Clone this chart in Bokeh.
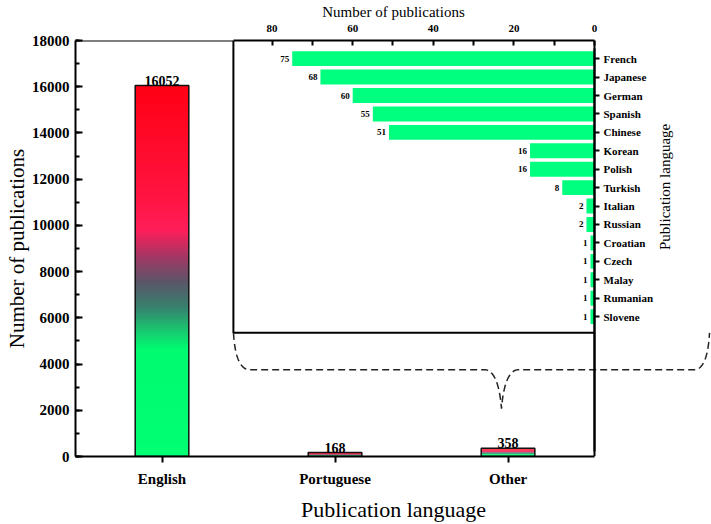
import math
import numpy as np
from bokeh.plotting import figure
from bokeh.models import Range1d, LinearAxis, FixedTicker, SingleIntervalTicker
from bokeh.core.properties import value
from bokeh.embed import file_html
from bokeh.resources import INLINE

# ---------------- data ----------------
main_languages = ["English", "Portuguese", "Other"]
main_counts = [16052, 168, 358]

other_languages = ["French", "Japanese", "German", "Spanish", "Chinese", "Korean",
                   "Polish", "Turkish", "Italian", "Russian", "Croatian", "Czech",
                   "Malay", "Rumanian", "Slovene"]
other_counts = [75, 68, 60, 55, 51, 16, 16, 8, 2, 2, 1, 1, 1, 1, 1]

main_y_interval = 2000
inset_x_ticks = [0, 20, 40, 60, 80]
inset_x_minor_ticks = [10, 30, 50, 70]

# ---------------- styling constants ----------------
FONT = "Liberation Serif"
W, H = 711, 524
GREEN = "#00FF7F"

main_x = [i + 0.5 for i in range(len(main_languages))]
inset_y = [i + 1 for i in range(len(other_languages))]

p = figure(width=W, height=H, output_backend="svg", toolbar_location=None,
           x_range=Range1d(0, 3.676), y_range=Range1d(0, 18000),
           x_axis_location=None, y_axis_location=None,
           min_border_left=75, min_border_top=40, min_border_bottom=67,
           min_border_right=0)
p.outline_line_color = None
p.background_fill_color = "white"
p.border_fill_color = "white"
for g in p.grid:
    g.visible = False

p.extra_x_ranges = {"ix": Range1d(128.78, -29.03)}
p.extra_y_ranges = {"iy": Range1d(22.59, 0.015)}
INSET_X_EDGE = 89.6
INSET_Y_EDGE = 15.88


def style_axis(ax, label_size="15px", title_size="15px"):
    ax.axis_line_width = 2
    ax.axis_line_color = "black"
    ax.major_tick_line_width = 2
    ax.minor_tick_line_width = 2
    ax.major_tick_line_color = "black"
    ax.minor_tick_line_color = "black"
    ax.major_label_text_font = FONT
    ax.major_label_text_font_style = "bold"
    ax.major_label_text_font_size = label_size
    ax.major_label_text_color = "black"
    ax.axis_label_text_font = FONT
    ax.axis_label_text_font_style = "normal"
    ax.axis_label_text_font_size = title_size
    ax.axis_label_text_color = "black"


# ---------------- gradient main bars ----------------
stops_f = [0.0, 0.29, 0.34, 0.40, 0.47, 0.54, 0.61, 0.70, 1.0]
stops_rgb = np.array([(0, 255, 115), (0, 250, 112), (25, 200, 112), (55, 130, 110),
                      (90, 85, 105), (165, 55, 100), (255, 30, 90), (255, 20, 65),
                      (255, 0, 20)], dtype=float)


def grad_color(f):
    r = np.interp(f, stops_f, stops_rgb[:, 0])
    g = np.interp(f, stops_f, stops_rgb[:, 1])
    b = np.interp(f, stops_f, stops_rgb[:, 2])
    return "#%02x%02x%02x" % (int(round(r)), int(round(g)), int(round(b)))


N = 160
BW = 0.31
for xc, v in zip(main_x, main_counts):
    fr = np.arange(N) / N
    bottoms = v * fr
    tops = np.minimum(v * (fr + 1.6 / N), v)
    cols = [grad_color(f + 0.5 / N) for f in fr]
    p.quad(left=xc - BW / 2, right=xc + BW / 2, bottom=bottoms, top=tops,
           fill_color=cols, line_color=None)

p.quad(left=[x - BW / 2 for x in main_x], right=[x + BW / 2 for x in main_x],
       bottom=0, top=main_counts, fill_color=None, line_color="#111111", line_width=1.5)
p.text(x=main_x, y=main_counts, text=[str(c) for c in main_counts],
       text_align="center", text_baseline="bottom",
       text_font=value(FONT), text_font_style="bold", text_font_size="14px",
       text_color="black")

# ---------------- inset ----------------
p.quad(left=INSET_X_EDGE, right=0, top=0.015, bottom=INSET_Y_EDGE,
       fill_color="white", line_color=None, x_range_name="ix", y_range_name="iy")
p.hbar(y=inset_y, left=0, right=other_counts, height=0.81, fill_color=GREEN,
       line_color=None, x_range_name="ix", y_range_name="iy")
p.text(x=other_counts, y=inset_y, text=[str(c) for c in other_counts],
       x_offset=-3, text_align="right", text_baseline="middle",
       text_font=value(FONT), text_font_style="bold", text_font_size="9px",
       text_color="black", x_range_name="ix", y_range_name="iy")
p.line(x=[INSET_X_EDGE, INSET_X_EDGE, 0], y=[0.015, INSET_Y_EDGE, INSET_Y_EDGE],
       line_color="black", line_width=2, x_range_name="ix", y_range_name="iy")

# ---------------- brace (decoration) ----------------
def qbez(p0, c, p1, n=30):
    t = np.linspace(0, 1, n)[:, None]
    p0, c, p1 = np.array(p0), np.array(c), np.array(p1)
    return (1 - t) ** 2 * p0 + 2 * (1 - t) * t * c + t ** 2 * p1

segs = [
    qbez((89.58, 15.88), (89.08, 17.77), (85.86, 17.88)),
    np.array([(85.86, 17.88), (27.05, 17.88)]),
    qbez((27.05, 17.88), (23.82, 17.99), (23.08, 19.99)),
    qbez((23.08, 19.99), (22.33, 17.99), (19.11, 17.88)),
    np.array([(19.11, 17.88), (-25.06, 17.88)]),
    qbez((-25.06, 17.88), (-28.04, 17.77), (-28.54, 15.88)),
]
brace = np.vstack(segs)
p.line(x=brace[:, 0], y=brace[:, 1], line_color="#222222", line_width=1.5,
       line_dash="7 4", x_range_name="ix", y_range_name="iy")

# ---------------- axes ----------------
# main left axis
ay = LinearAxis(ticker=SingleIntervalTicker(interval=main_y_interval, num_minor_ticks=2),
                axis_label="Number of publications",
                major_tick_in=7, major_tick_out=0, minor_tick_in=4, minor_tick_out=0,
                major_label_standoff=6, axis_label_standoff=0)
style_axis(ay, "15px", "21px")
p.add_layout(ay, "left")

# main bottom axis
ax = LinearAxis(ticker=FixedTicker(ticks=main_x, minor_ticks=[]),
                major_label_overrides={x: n for x, n in zip(main_x, main_languages)},
                bounds=(0, 3), axis_label="Publication language",
                major_tick_in=0, major_tick_out=6, minor_tick_in=0, minor_tick_out=0,
                major_label_standoff=8, axis_label_standoff=7)
style_axis(ax, "15px", "22px")
p.add_layout(ax, "below")

# inset top axis (closest to the frame)
at = LinearAxis(x_range_name="ix",
                ticker=FixedTicker(ticks=inset_x_ticks, minor_ticks=inset_x_minor_ticks),
                bounds=(0, INSET_X_EDGE), axis_label="Number of publications",
                major_tick_in=5, major_tick_out=0, minor_tick_in=5, minor_tick_out=0,
                major_label_standoff=9, axis_label_standoff=2)
style_axis(at, "11px", "15px")
p.add_layout(at, "above")

# main frame: top line left of inset, right line
atop_main = LinearAxis(fixed_location=18000, bounds=(0, 0.913),
                       ticker=FixedTicker(ticks=[], minor_ticks=[]),
                       major_tick_in=0, major_tick_out=0, minor_tick_in=0, minor_tick_out=0)
style_axis(atop_main)
p.add_layout(atop_main, "above")

aright_main = LinearAxis(fixed_location=3, bounds=(0, 18000),
                         ticker=FixedTicker(ticks=[], minor_ticks=[]),
                         major_tick_in=0, major_tick_out=0, minor_tick_in=0, minor_tick_out=0)
style_axis(aright_main)
p.add_layout(aright_main, "right")

# inset right axis (bounds chosen so the rotated title sits beside the inset)
ar = LinearAxis(x_range_name="ix", y_range_name="iy", fixed_location=0,
                ticker=FixedTicker(ticks=inset_y, minor_ticks=[]),
                major_label_overrides={y: n for y, n in zip(inset_y, other_languages)},
                bounds=(0.46, 22.32), axis_label="Publication language",
                major_tick_in=0, major_tick_out=5, minor_tick_in=0, minor_tick_out=0,
                major_label_standoff=4, axis_label_standoff=9)
style_axis(ar, "11px", "15px")
try:
    ar.axis_label_orientation = math.pi / 2
except Exception:
    pass
p.add_layout(ar, "right")

open("out.html", "w").write(file_html(p, INLINE))
